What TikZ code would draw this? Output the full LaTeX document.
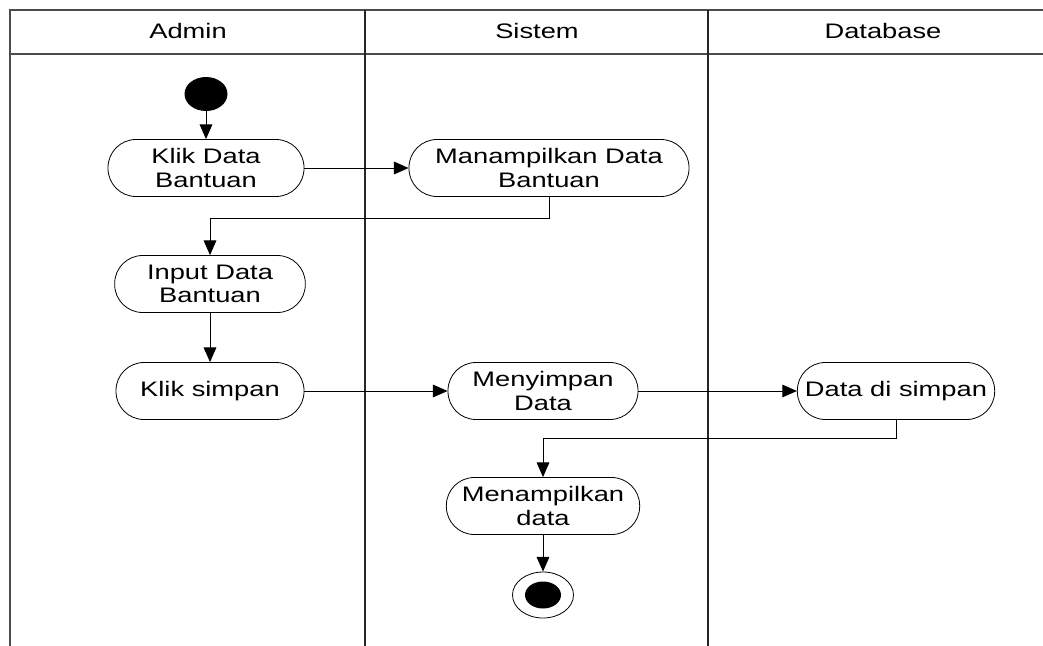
\documentclass[tikz,border=0pt]{standalone}
\usepackage{fontspec}
\setmainfont[FakeStretch=1.3]{Liberation Sans}
\usetikzlibrary{arrows.meta,shapes.geometric}

\begin{document}
\begin{tikzpicture}[x=0.75pt, y=-0.75pt,
    act/.style={draw, line width=0.6pt, rounded corners=21pt, minimum height=42.75pt, align=center, inner sep=1pt, font=\fontsize{15.75}{17.5}\selectfont},
    head/.style={font=\fontsize{15.75}{17.5}\selectfont},
    flow/.style={-{Triangle[length=11pt, width=9.5pt]}, line width=0.75pt},
    lane/.style={draw=black!70, line width=1.3pt},
    divider/.style={draw=black!85, line width=0.8pt}]
    \useasboundingbox (0,0) rectangle (1043,646);
    % swimlanes
    \draw [lane] (10,646) -- (10,10) -- (1043,10);
    \draw [lane] (10,54) -- (1043,54);
    \draw [divider] (365,10) -- (365,646);
    \draw [divider] (708,10) -- (708,646);
    \node [head] (hadmin) at (188,31) {Admin};
    \node [head] (hsistem) at (537,31) {Sistem};
    \node [head] (hdb) at (883,31) {Database};
    % activities
    \node [ellipse, fill, inner sep=0pt, minimum width=32.25pt, minimum height=25.5pt] (start) at (206,94) {};
    \node [act, minimum width=147pt] (klik) at (206,168) {Klik Data\\Bantuan};
    \node [act, minimum width=210pt] (tampil) at (549,168) {Manampilkan Data\\Bantuan};
    \node [act, minimum width=143pt] (input) at (210,284) {Input Data\\Bantuan};
    \node [act, minimum width=141pt] (simpan) at (210,391) {Klik simpan};
    \node [act, minimum width=142.5pt] (menyimpan) at (543,391) {Menyimpan\\Data};
    \node [act, minimum width=148pt] (disimpan) at (896,391) {Data di simpan};
    \node [act, minimum width=145pt] (tampildata) at (543,506) {Menampilkan\\data};
    \node [ellipse, draw, line width=0.6pt, inner sep=0pt, minimum width=45.75pt, minimum height=34.5pt] (end) at (543,595) {};
    \node [ellipse, fill, inner sep=0pt, minimum width=27pt, minimum height=20.25pt] (endin) at (end) {};
    % flows
    \draw [flow] (start) -- (klik);
    \draw [flow] (klik) -- (tampil);
    \draw [flow] (tampil.south) -- ++(0,22) -| (input.north);
    \draw [flow] (input) -- (simpan);
    \draw [flow] (simpan) -- (menyimpan);
    \draw [flow] (menyimpan) -- (disimpan);
    \draw [flow] (disimpan.south) -- ++(0,19) -| (tampildata.north);
    \draw [flow] (tampildata) -- (end);
\end{tikzpicture}
\end{document}
